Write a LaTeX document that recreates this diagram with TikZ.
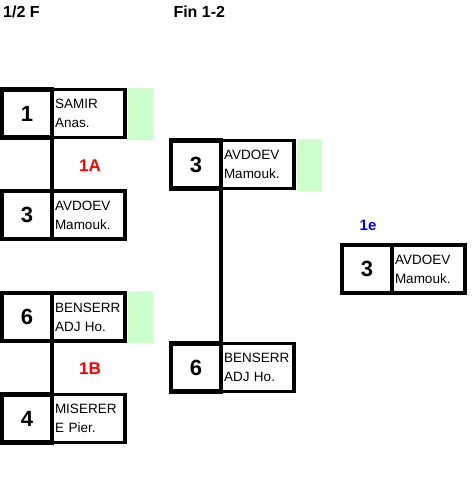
\documentclass[tikz,border=0pt]{standalone}
\usepackage{fontspec}
\setmainfont{Liberation Sans}
\usetikzlibrary{positioning}
\definecolor{seedgreen}{RGB}{204,255,204}
\def\dx{0pt}
\def\dy{53.7pt}
\tikzstyle{numbox}=[draw,line width=4.5pt,outer sep=0pt,minimum width=50pt,minimum height=48pt,inner sep=0pt,font=\fontsize{22}{22}\selectfont\bfseries]
\tikzstyle{namebox}=[draw,line width=3.5pt,outer sep=0pt,minimum width=73pt,minimum height=48pt,text width=67pt,inner xsep=3pt,inner ysep=0pt,align=left,font=\fontsize{13.5}{19}\selectfont]
\tikzstyle{seedbox}=[fill=seedgreen,outer sep=0pt,minimum width=25pt,minimum height=52pt,inner sep=0pt]
\tikzstyle{link}=[line width=4.5pt]
\tikzstyle{pool}=[font=\fontsize{17}{17}\selectfont\bfseries,text=red]
\newcommand{\newPlayer}[5]{\node[numbox,#5](#1){#2};
  \node[namebox,right=\dx of #1](#1n){#3\\#4};}
\newcommand{\newSeed}[1]{\node[seedbox,right=3pt of #1n](#1g){};}
\newcommand{\newLink}[2]{\draw[link] (#1.south east) -- (#2.north east);}

\begin{document}
\begin{tikzpicture}[x=1pt,y=-1pt]
  \useasboundingbox (0,0) rectangle (472,496);
  % round headers
  \node[anchor=base west,inner sep=0pt,font=\fontsize{16}{16}\selectfont\bfseries] (hsemi) at (3,17.3) {1/2 F};
  \node[anchor=base west,inner sep=0pt,font=\fontsize{16}{16}\selectfont\bfseries] (hfin) at (173.3,17.3) {Fin 1-2};

  % semi finals
  \newPlayer{sA1}{1}{SAMIR}{Anas.}{at={(27,113.5)}}
  \newPlayer{sA2}{3}{AVDOEV}{Mamouk.}{below=\dy of sA1}
  \newPlayer{sB1}{6}{BENSERR}{ADJ Ho.}{below=\dy of sA2}
  \newPlayer{sB2}{4}{MISERER}{E Pier.}{below=\dy of sB1}
  \newSeed{sA1}
  \newSeed{sB1}
  \newLink{sA1}{sA2}
  \newLink{sB1}{sB2}
  \node[pool] (pA) at (90,165.5) {1A};
  \node[pool] (pB) at (90,369) {1B};

  % final
  \newPlayer{f1}{3}{AVDOEV}{Mamouk.}{at={(196,164.5)}}
  \newPlayer{f2}{6}{BENSERR}{ADJ Ho.}{at={(196,367.5)}}
  \newSeed{f1}
  \newLink{f1}{f2}

  % winner
  \node[pool,text=blue,font=\fontsize{15}{15}\selectfont\bfseries] (win) at (368,225) {1e};
  \newPlayer{w}{3}{AVDOEV}{Mamouk.}{at={(367,269)}}
\end{tikzpicture}
\end{document}
